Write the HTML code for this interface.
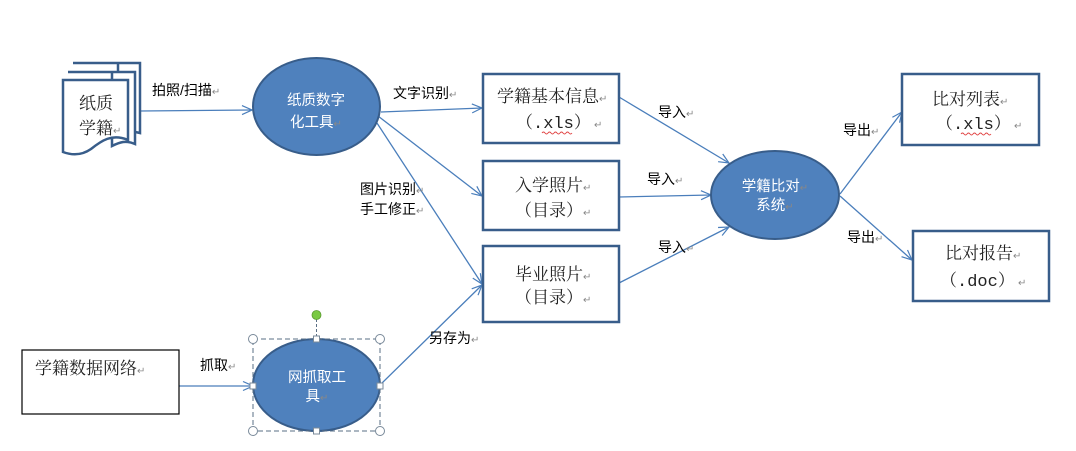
<!DOCTYPE html>
<html>
<head>
<meta charset="utf-8">
<style>
html,body{margin:0;padding:0;background:#fff;}
svg{display:block;}
.lbl{font-family:"Liberation Sans","Noto Sans CJK SC",sans-serif;font-size:14px;fill:#000;}
.box{font-family:"Liberation Serif","Noto Serif CJK SC",serif;font-size:17px;fill:#222;}
.mono{font-family:"Liberation Mono",monospace;font-size:17px;}
.ell{font-family:"Liberation Sans","Noto Sans CJK SC",sans-serif;font-size:14.5px;fill:#fff;}
.rm{fill:#888;font-size:10px;font-family:"DejaVu Sans",sans-serif;}
</style>
</head>
<body>
<svg width="1076" height="451" viewBox="0 0 1076 451" xmlns="http://www.w3.org/2000/svg">
<defs>
<marker id="ah" markerWidth="12" markerHeight="12" refX="11" refY="6" orient="auto" markerUnits="userSpaceOnUse">
<path d="M1,1.5 L11,6 L1,10.5" fill="none" stroke="#4a7ebb" stroke-width="1.2"/>
</marker>
</defs>

<g stroke="#4a7ebb" stroke-width="1.3" fill="none" marker-end="url(#ah)">
<line x1="140" y1="111" x2="252" y2="110"/>
<line x1="381" y1="112" x2="482" y2="108"/>
<line x1="378" y1="116" x2="482" y2="196"/>
<line x1="375" y1="120" x2="482" y2="284"/>
<line x1="619" y1="97" x2="729" y2="163"/>
<line x1="619" y1="197" x2="711" y2="195"/>
<line x1="619" y1="283" x2="729" y2="227"/>
<line x1="840" y1="194" x2="902" y2="112"/>
<line x1="840" y1="196" x2="912" y2="260"/>
<line x1="179" y1="386" x2="253" y2="386"/>
<line x1="381" y1="384" x2="482" y2="285"/>
</g>

<!-- document icon -->
<g stroke="#385d8a" stroke-width="2.5" fill="#fff" stroke-linejoin="miter">
<path d="M73,63 H140 V133 C130,130 124,134 118,137 L118,63 Z"/>
<path d="M68,72 H135 V144 C126,140 120,142 112,146 L112,72 Z"/>
<path d="M63,80 H128 V140 C112,133 101,141 91,149 C81,156 71,155 63,152 Z"/>
</g>
<text class="box" x="79" y="109" font-size="18">纸质</text>
<text class="box" x="79" y="134" font-size="18">学籍<tspan class="rm">↵</tspan></text>

<!-- ellipse 1 -->
<ellipse cx="316.5" cy="106.5" rx="63.5" ry="48.5" fill="#4f81bd" stroke="#385d8a" stroke-width="2"/>
<text class="ell" x="316" y="105" text-anchor="middle">纸质数字</text>
<text class="ell" x="316" y="127" text-anchor="middle">化工具<tspan class="rm">↵</tspan></text>

<!-- boxes -->
<g fill="#fff" stroke="#385d8a" stroke-width="2.5">
<rect x="483" y="74" width="136" height="69"/>
<rect x="483" y="161" width="136" height="69"/>
<rect x="483" y="246" width="136" height="76"/>
<rect x="902" y="74" width="137" height="71"/>
<rect x="913" y="231" width="136" height="70"/>
</g>
<g fill="#fff" stroke="#000" stroke-width="1.2">
<rect x="22" y="350" width="157" height="64"/>
</g>

<text class="box" x="497" y="102">学籍基本信息<tspan class="rm">↵</tspan></text>
<text class="box" x="516" y="128">（<tspan class="mono">.xls</tspan>）<tspan class="rm"> ↵</tspan></text>
<path d="M542,133 q1.5,-2 3,0 t3,0 t3,0 t3,0 t3,0 t3,0 t3,0 t3,0 t3,0 t3,0" stroke="#e04040" stroke-width="0.9" fill="none"/>

<text class="box" x="515" y="191">入学照片<tspan class="rm">↵</tspan></text>
<text class="box" x="515" y="216">（目录）<tspan class="rm">↵</tspan></text>

<text class="box" x="515" y="280">毕业照片<tspan class="rm">↵</tspan></text>
<text class="box" x="515" y="303">（目录）<tspan class="rm">↵</tspan></text>

<text class="box" x="932" y="105">比对列表<tspan class="rm">↵</tspan></text>
<text class="box" x="936" y="129">（<tspan class="mono">.xls</tspan>）<tspan class="rm"> ↵</tspan></text>
<path d="M961,134 q1.5,-2 3,0 t3,0 t3,0 t3,0 t3,0 t3,0 t3,0 t3,0 t3,0 t3,0" stroke="#e04040" stroke-width="0.9" fill="none"/>

<text class="box" x="945" y="259">比对报告<tspan class="rm">↵</tspan></text>
<text class="box" x="940" y="286">（<tspan class="mono">.doc</tspan>）<tspan class="rm"> ↵</tspan></text>

<text class="box" x="35" y="374">学籍数据网络<tspan class="rm">↵</tspan></text>

<!-- ellipse 2 -->
<ellipse cx="775" cy="195" rx="64" ry="44" fill="#4f81bd" stroke="#385d8a" stroke-width="2"/>
<text class="ell" x="775" y="191" text-anchor="middle">学籍比对<tspan class="rm">↵</tspan></text>
<text class="ell" x="775" y="210" text-anchor="middle">系统<tspan class="rm">↵</tspan></text>

<!-- ellipse 3 with selection -->
<ellipse cx="316.5" cy="385" rx="63.5" ry="46" fill="#4f81bd" stroke="#385d8a" stroke-width="2"/>
<text class="ell" x="317" y="382" text-anchor="middle">网抓取工</text>
<text class="ell" x="317" y="401" text-anchor="middle">具<tspan class="rm">↵</tspan></text>
<rect x="253" y="339" width="127" height="92" fill="none" stroke="#5a6f85" stroke-width="1" stroke-dasharray="5,3"/>
<line x1="316.5" y1="319" x2="316.5" y2="339" stroke="#5a6f85" stroke-width="1" stroke-dasharray="3,2"/>
<circle cx="316.5" cy="315" r="4.5" fill="#7ac943" stroke="#5a9a30" stroke-width="0.8"/>
<g fill="#fff" stroke="#7a8a9a" stroke-width="1">
<circle cx="253" cy="339" r="4.5"/>
<circle cx="380" cy="339" r="4.5"/>
<circle cx="253" cy="431" r="4.5"/>
<circle cx="380" cy="431" r="4.5"/>
<rect x="313.5" y="336" width="6" height="6"/>
<rect x="313.5" y="428" width="6" height="6"/>
<rect x="250" y="383" width="6" height="6"/>
<rect x="377" y="383" width="6" height="6"/>
</g>

<!-- labels -->
<text class="lbl" x="152" y="95">拍照/扫描<tspan class="rm">↵</tspan></text>
<text class="lbl" x="393" y="98">文字识别<tspan class="rm">↵</tspan></text>
<text class="lbl" x="360" y="194">图片识别<tspan class="rm">↵</tspan></text>
<text class="lbl" x="360" y="214">手工修正<tspan class="rm">↵</tspan></text>
<text class="lbl" x="658" y="117">导入<tspan class="rm">↵</tspan></text>
<text class="lbl" x="647" y="184">导入<tspan class="rm">↵</tspan></text>
<text class="lbl" x="658" y="252">导入<tspan class="rm">↵</tspan></text>
<text class="lbl" x="843" y="135">导出<tspan class="rm">↵</tspan></text>
<text class="lbl" x="847" y="242">导出<tspan class="rm">↵</tspan></text>
<text class="lbl" x="200" y="370">抓取<tspan class="rm">↵</tspan></text>
<text class="lbl" x="429" y="343">另存为<tspan class="rm">↵</tspan></text>
</svg>
</body>
</html>
